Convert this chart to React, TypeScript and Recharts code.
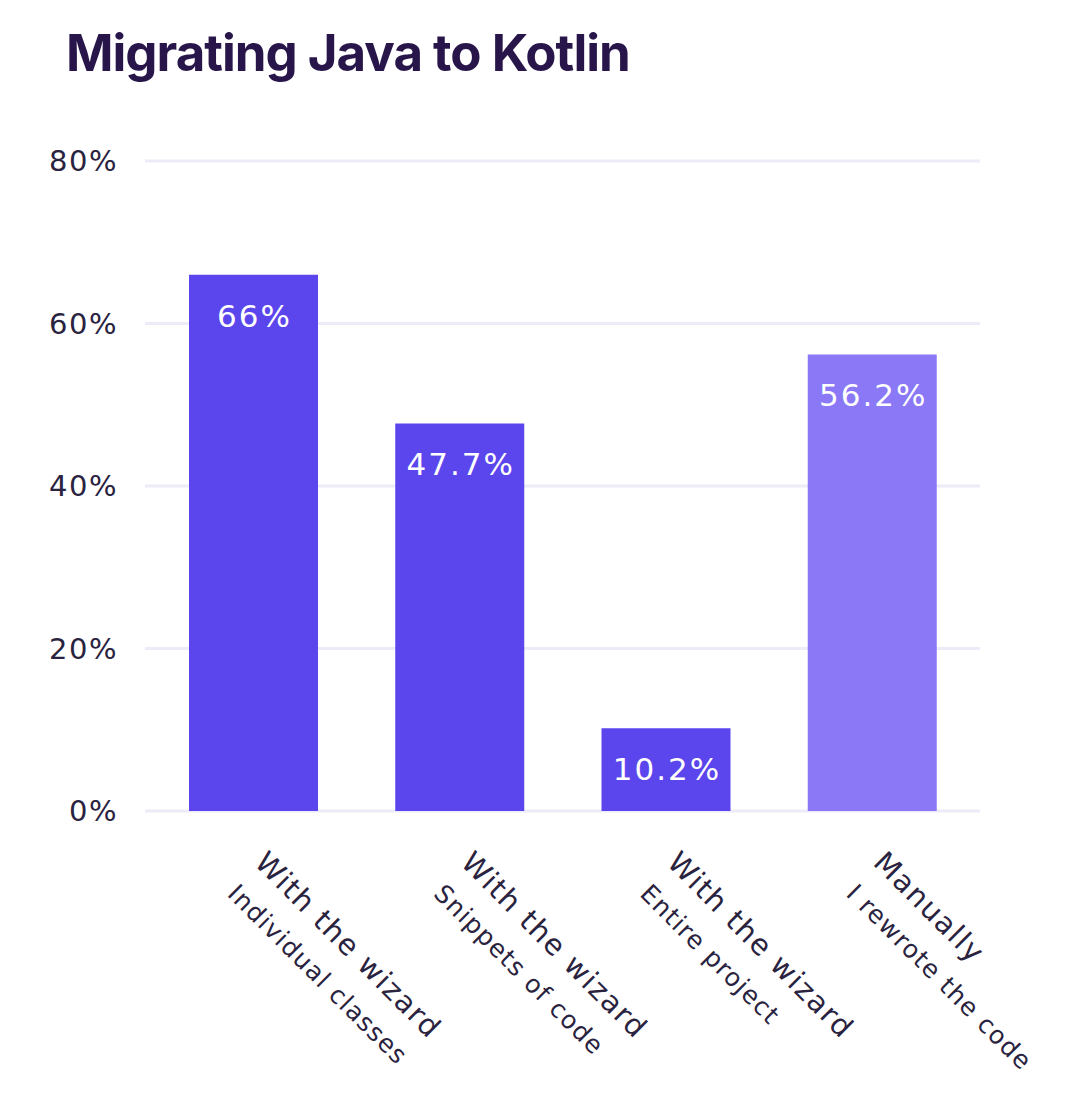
import { Bar, BarChart, CartesianGrid, Cell, LabelList, XAxis, YAxis } from "recharts";

const methods = ["With the wizard", "With the wizard", "With the wizard", "Manually"];
const details = ["Individual classes", "Snippets of code", "Entire project", "I rewrote the code"];
const shares = [66, 47.7, 10.2, 56.2];
const yTicks = [0, 20, 40, 60, 80];

const WIZARD_COLOR = "#5b45ec";
const MANUAL_COLOR = "#8a78f6";
const TEXT_COLOR = "#2a2340";
const FONT = "'DejaVu Sans', sans-serif";

const rows = methods.map((method, i) => ({
  key: `${i}`,
  method,
  detail: details[i],
  share: shares[i],
}));

function CategoryTick({ x, y, payload }: any) {
  const row = rows[payload.index] ?? rows[Number(payload.value)];
  return (
    <g transform={`translate(${x},${y}) rotate(45)`}>
      <text x={0} y={0} fill={TEXT_COLOR} fontSize={29} letterSpacing={1.5} fontFamily={FONT} textAnchor="start">
        {row.method}
      </text>
      <text x={3} y={41} fill={TEXT_COLOR} fontSize={25} letterSpacing={1.2} fontFamily={FONT} textAnchor="start">
        {row.detail}
      </text>
    </g>
  );
}

function ValueLabel({ x, y, width, value }: any) {
  return (
    <text
      x={Number(x) + Number(width) / 2 + 1}
      y={Number(y) + 52}
      fill="#ffffff"
      fontSize={31}
      letterSpacing={2}
      fontFamily={FONT}
      textAnchor="middle"
    >
      {`${value}%`}
    </text>
  );
}

export default function App() {
  return (
    <div
      style={{
        position: "absolute",
        left: 0,
        top: 0,
        width: 1080,
        height: 1101,
        background: "#ffffff",
        overflow: "hidden",
      }}
    >
      <div
        style={{
          position: "absolute",
          left: 66,
          top: 22,
          fontFamily: "Inter, sans-serif",
          fontWeight: 700,
          fontSize: 51,
          letterSpacing: -1,
          color: "#28164b",
          whiteSpace: "nowrap",
        }}
      >
        Migrating Java to Kotlin
      </div>
      <BarChart
        width={1080}
        height={1101}
        data={rows}
        margin={{ top: 161, right: 100, bottom: 40, left: 45 }}
        barSize={129}
      >
        <CartesianGrid vertical={false} stroke="#ecebf7" strokeWidth={3} />
        <XAxis
          dataKey="key"
          axisLine={false}
          tickLine={false}
          tickSize={0}
          tickMargin={53}
          height={250}
          interval={0}
          padding={{ left: 5, right: 5 }}
          tick={<CategoryTick />}
        />
        <YAxis
          domain={[0, 80]}
          ticks={yTicks}
          axisLine={false}
          tickLine={false}
          tickSize={0}
          tickMargin={27}
          width={100}
          tickFormatter={(v: number) => `${v}%`}
          tick={{ fill: TEXT_COLOR, fontSize: 29, letterSpacing: 1.5, fontFamily: FONT }}
        />
        <Bar dataKey="share" isAnimationActive={false}>
          {rows.map((row) => (
            <Cell key={row.key} fill={row.method === "Manually" ? MANUAL_COLOR : WIZARD_COLOR} />
          ))}
          <LabelList dataKey="share" content={<ValueLabel />} />
        </Bar>
      </BarChart>
    </div>
  );
}
